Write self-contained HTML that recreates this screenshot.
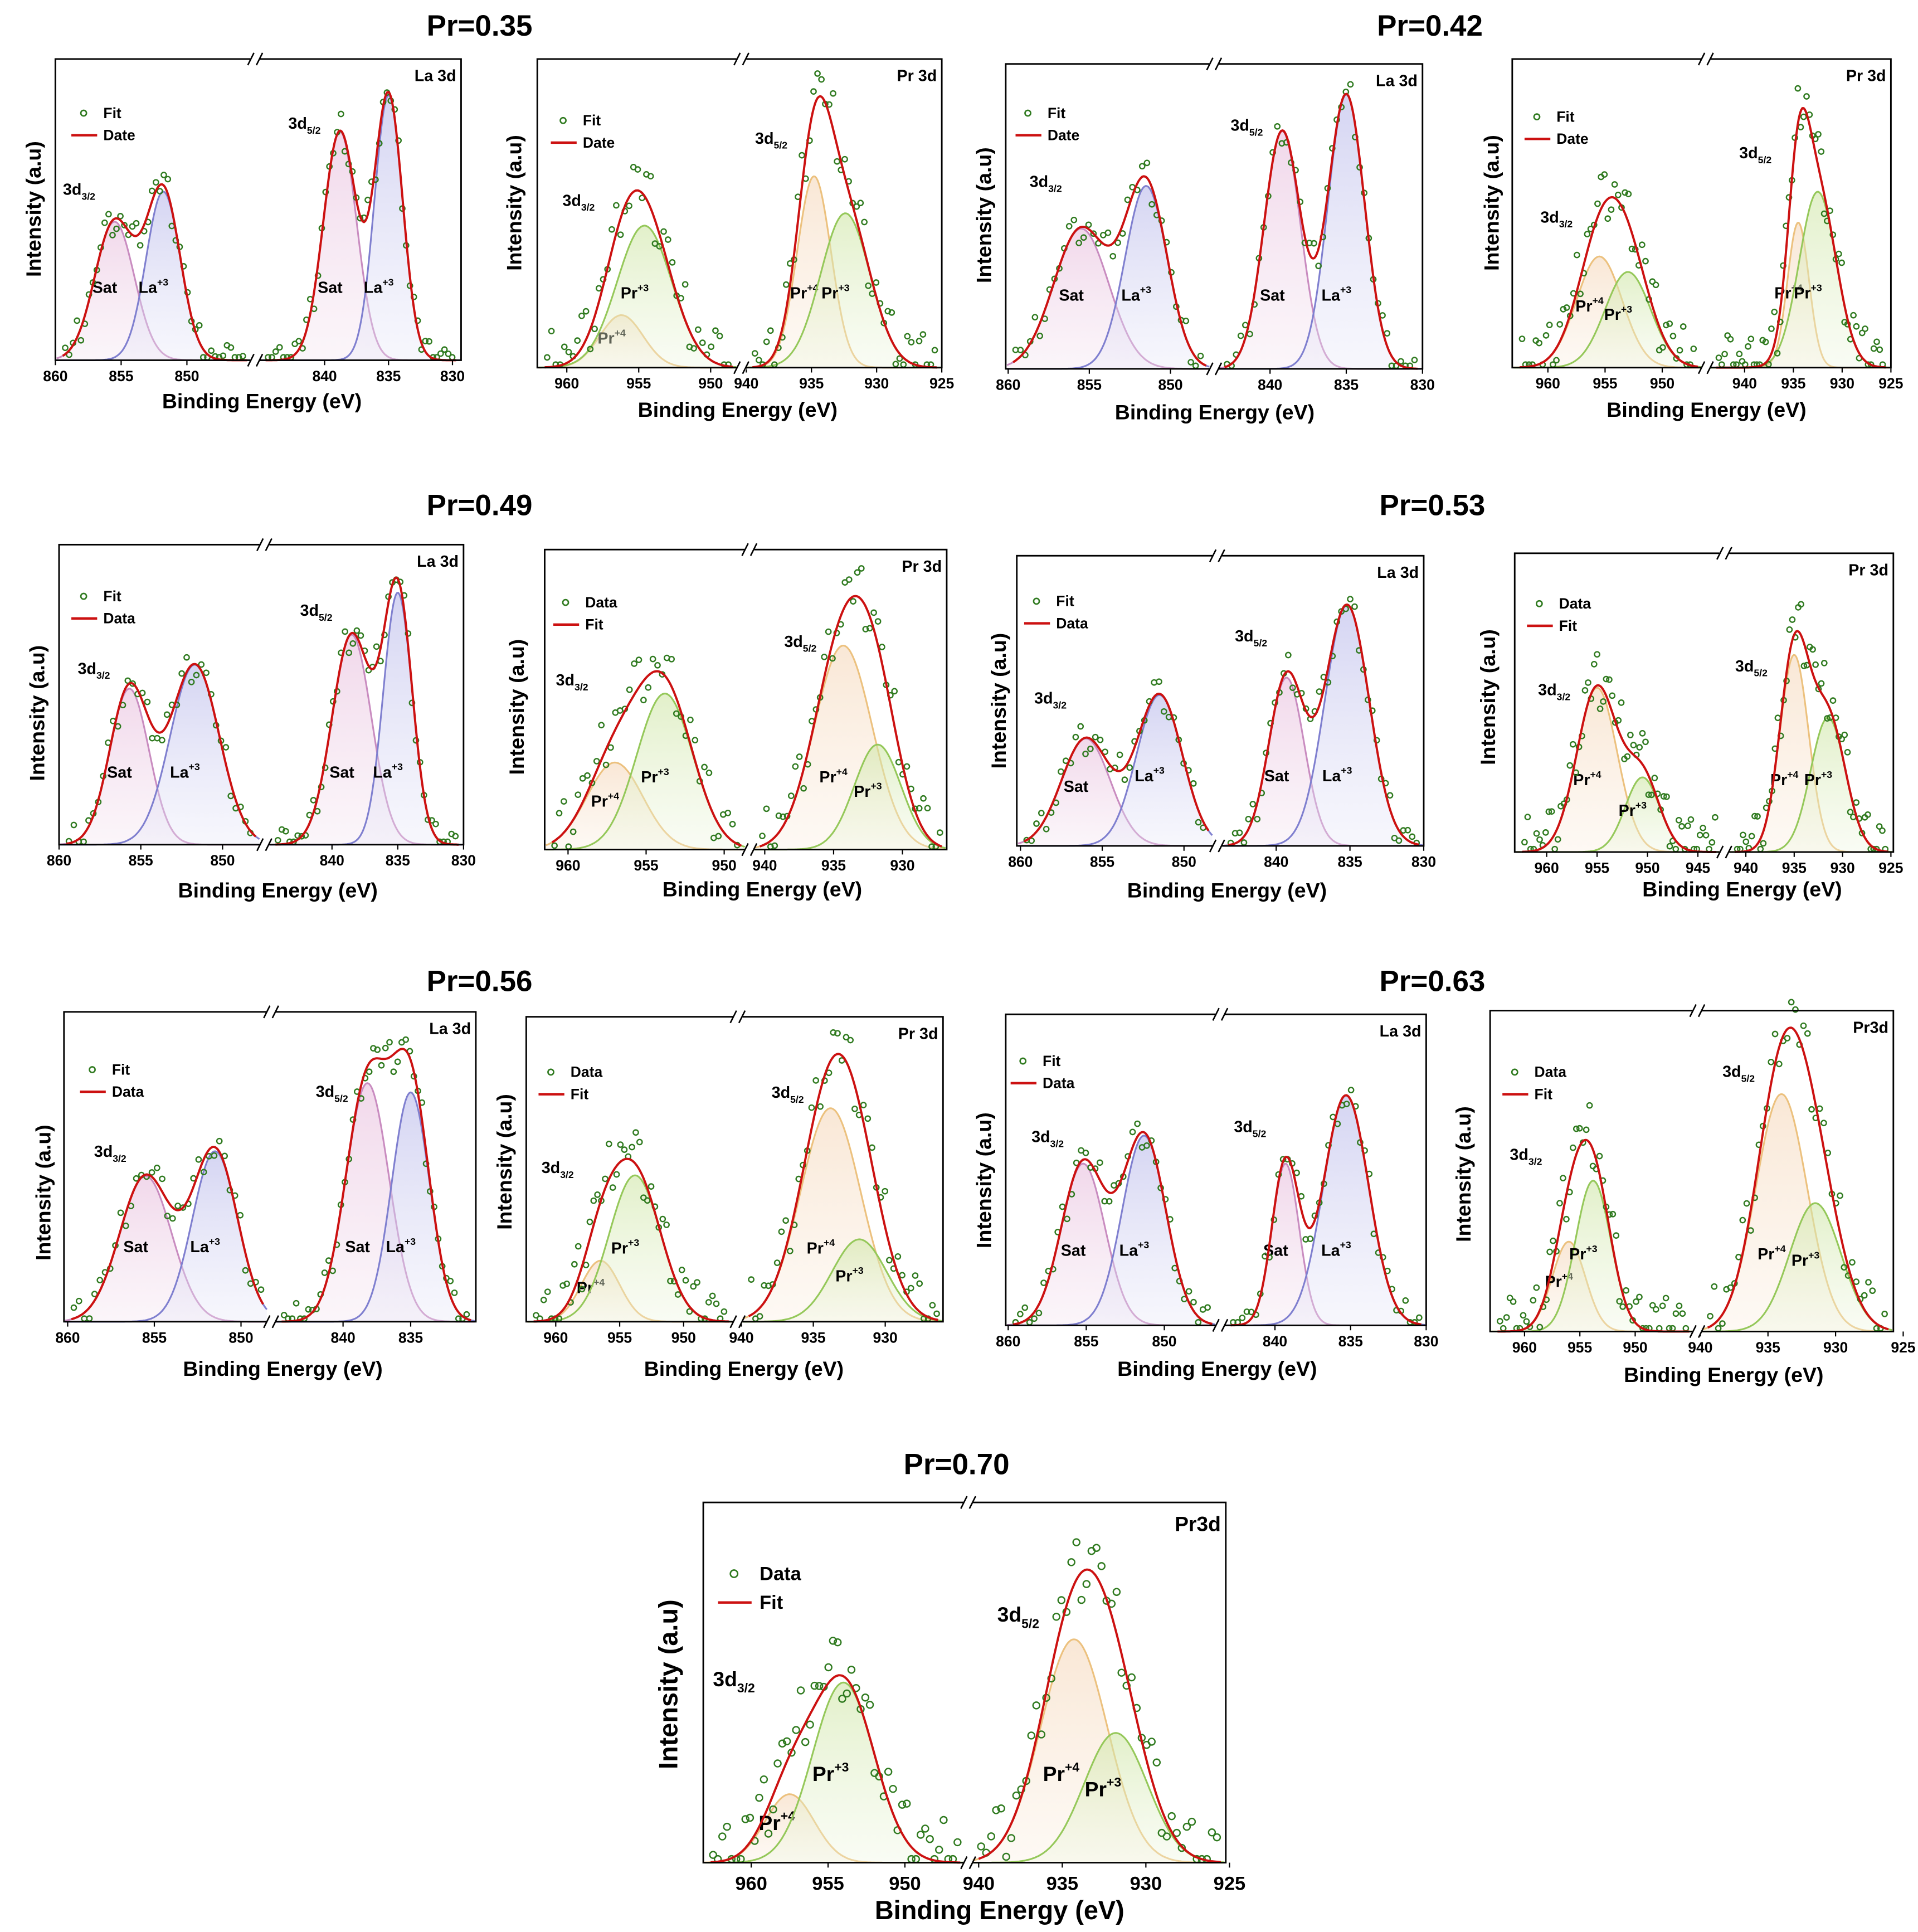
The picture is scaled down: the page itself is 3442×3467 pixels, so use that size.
<!DOCTYPE html>
<html><head><meta charset="utf-8"><style>
html,body{margin:0;padding:0;background:#fff}
svg{display:block;font-family:"Liberation Sans",Arial,sans-serif}
</style></head><body>
<svg id="fig" xmlns="http://www.w3.org/2000/svg" width="3442" height="3467" viewBox="0 0 1560 1571.4">
<defs>
<linearGradient id="g-sat" x1="0" y1="0" x2="0" y2="1"><stop offset="0" stop-color="#e6b8da" stop-opacity="0.55"/><stop offset="1" stop-color="#f4e4f0" stop-opacity="0.35"/></linearGradient>
<linearGradient id="g-la" x1="0" y1="0" x2="0" y2="1"><stop offset="0" stop-color="#b8b8ea" stop-opacity="0.6"/><stop offset="1" stop-color="#e8e8f8" stop-opacity="0.35"/></linearGradient>
<linearGradient id="g-p4" x1="0" y1="0" x2="0" y2="1"><stop offset="0" stop-color="#f4d4b4" stop-opacity="0.55"/><stop offset="1" stop-color="#fbeee0" stop-opacity="0.35"/></linearGradient>
<linearGradient id="g-p3" x1="0" y1="0" x2="0" y2="1"><stop offset="0" stop-color="#cfe6a6" stop-opacity="0.6"/><stop offset="1" stop-color="#eef6e0" stop-opacity="0.35"/></linearGradient>
</defs>
</svg>
<script>
// ---------- data ----------
const panelTitles = ["Pr=0.35","Pr=0.42","Pr=0.49","Pr=0.53","Pr=0.56","Pr=0.63","Pr=0.70"];
const peakCenters = [
 [855.5,851.8,838.8,835.0],
 [956.2,954.6,934.8,932.4],
 [855.5,851.5,839.2,835.0],
 [955.5,953.0,934.5,932.5],
 [855.7,851.7,838.5,835.0],
 [957.0,953.8,934.3,931.8],
 [856.0,851.5,839.3,835.2],
 [955.0,950.5,935.0,931.5],
 [855.5,851.5,838.2,835.0],
 [956.5,953.8,933.8,931.8],
 [855.2,851.3,839.3,835.3],
 [956.0,953.8,934.0,931.5],
 [957.5,954.0,934.3,931.8]
];
const peakHeights = [
 [0.46,0.56,0.76,0.88],
 [0.17,0.46,0.62,0.50],
 [0.46,0.60,0.78,0.90],
 [0.36,0.31,0.47,0.57],
 [0.52,0.60,0.70,0.84],
 [0.29,0.52,0.68,0.35],
 [0.37,0.52,0.58,0.83],
 [0.55,0.25,0.66,0.45],
 [0.47,0.55,0.77,0.74],
 [0.20,0.48,0.70,0.27],
 [0.52,0.61,0.52,0.74],
 [0.28,0.47,0.74,0.40],
 [0.19,0.50,0.62,0.36]
];
const peakWidths = [
 [1.5,1.3,1.3,1.1],
 [1.5,1.9,1.3,1.9],
 [1.7,1.3,1.2,1.2],
 [2.0,2.0,1.1,1.9],
 [1.2,1.5,1.5,1.1],
 [1.8,1.8,2.1,1.7],
 [1.5,1.4,1.2,1.5],
 [2.0,1.7,1.5,1.8],
 [1.5,1.3,1.6,1.4],
 [1.5,2.0,2.1,1.9],
 [1.4,1.4,0.9,1.5],
 [1.5,1.6,1.9,1.9],
 [1.6,2.0,2.0,1.9]
];
const peakKinds = {La:["sat","la","sat","la"], Pr:["p4","p3","p4","p3"]};
const laTicks = [[860,855,850],[840,835,830]];
const prTicks = [[960,955,950],[940,935,930,925]];
const noise = [0.03,-0.04,0.06,-0.02,0.05,-0.07,0.01,0.04,-0.05,0.08,-0.03,0.02,-0.06,0.05,0.00,-0.04,0.07,-0.02,0.03,-0.08,0.04,0.01,-0.05,0.06,-0.01,0.03,-0.06,0.02,0.05,-0.03,0.07];

// ---------- layout ----------
const L = [
 {t:"La",box:[45,48,375,293],s:[[860,45,850,152,45,205],[840,264,835,316,210,375]],leg:["Fit","Date"],lx:58,ly:92,lab:"La 3d",yl:[27,170],xl:[213,326],title:[390,20]},
 {t:"Pr",box:[437,48,766,299],s:[[960,461,950,578,437,600],[935,660,925,766,606,766]],leg:["Fit","Date"],lx:448,ly:98,lab:"Pr 3d",yl:[418,165],xl:[600,333]},
 {t:"La",box:[818,52,1157,300],s:[[860,820,850,952,818,985],[840,1033,830,1157,990,1157]],leg:["Fit","Date"],lx:826,ly:92,lab:"La 3d",yl:[800,175],xl:[988,335],title:[1163,20]},
 {t:"Pr",box:[1230,48,1538,299],s:[[960,1259,950,1352,1230,1385],[940,1419,925,1538,1390,1538]],leg:["Fit","Date"],lx:1240,ly:95,lab:"Pr 3d",yl:[1213,165],xl:[1388,333]},
 {t:"La",box:[48,443,377,687],s:[[860,48,850,181,48,212],[840,270,830,377,218,377]],leg:["Fit","Data"],lx:58,ly:485,lab:"La 3d",yl:[30,580],xl:[226,724],title:[390,410]},
 {t:"Pr",box:[443,447,770,691],s:[[960,462,950,589,443,607],[935,678,930,734,612,770]],leg:["Data","Fit"],lx:450,ly:490,lab:"Pr 3d",yl:[420,575],xl:[620,723],tk1:[940,935,930]},
 {t:"La",box:[827,452,1158,688],s:[[860,830,850,963,827,987],[840,1038,830,1158,993,1158]],leg:["Fit","Data"],lx:833,ly:489,lab:"La 3d",yl:[812,570],xl:[998,724],title:[1165,410]},
 {t:"Pr",box:[1232,450,1540,693],s:[[960,1258,945,1381,1232,1400],[940,1420,925,1538,1405,1540]],leg:["Data","Fit"],lx:1242,ly:491,lab:"Pr 3d",yl:[1210,567],xl:[1417,723],tk0:[960,955,950,945]},
 {t:"La",box:[52,823,387,1075],s:[[860,55,850,196,52,218],[840,279,835,334,223,387]],leg:["Fit","Data"],lx:65,ly:870,lab:"La 3d",yl:[35,970],xl:[230,1113],title:[390,797],tk1:[840,835]},
 {t:"Pr",box:[428,827,767,1075],s:[[960,452,950,556,428,597],[940,603,930,720,603,767]],leg:["Data","Fit"],lx:438,ly:872,lab:"Pr 3d",yl:[410,945],xl:[605,1113],tk1:[940,935,930]},
 {t:"La",box:[818,825,1160,1078],s:[[860,820,850,947,818,990],[840,1037,830,1160,995,1160]],leg:["Fit","Data"],lx:822,ly:863,lab:"La 3d",yl:[800,960],xl:[990,1113],title:[1165,797]},
 {t:"Pr",box:[1212,822,1540,1083],s:[[960,1240,950,1330,1212,1378],[940,1383,925,1548,1383,1540]],leg:["Data","Fit"],lx:1222,ly:872,lab:"Pr3d",yl:[1190,955],xl:[1402,1118]},
 {t:"Pr",box:[572,1222,997,1515],s:[[960,611,950,736,572,785],[935,864,930,932,790,997]],leg:["Data","Fit"],lx:584,ly:1280,lab:"Pr3d",yl:[545,1370],xl:[813,1555],title:[778,1190],big:true}
];
const COL = {sat:"#c98cc0",la:"#7f7fcf",p4:"#ecc17e",p3:"#95c85a"};
const NS="http://www.w3.org/2000/svg";
const svg=document.getElementById('fig');
function mk(tag,attrs,parent){const e=document.createElementNS(NS,tag);for(const k in attrs)e.setAttribute(k,attrs[k]);(parent||svg).appendChild(e);return e;}
function gauss(x,c,h,s){return h*Math.exp(-0.5*((x-c)/s)*((x-c)/s));}

let ni=0;
L.forEach((P,pi)=>{
 const g=mk('g',{});
 
 
 const big=!!P.big, fs=big?1.3:1;
 const [x0,y0,x1,y1]=P.box, H=y1-y0;
 const yv=v=>y1-v*H;
 const kinds=peakKinds[P.t];
 const axT=[P.tk0||(P.t==="La"?laTicks[0]:prTicks[0]), P.tk1||(P.t==="La"?laTicks[1]:prTicks[1])];
 if(P.title){const t=mk('text',{x:P.title[0],y:P.title[1]+9,'text-anchor':'middle','font-size':24,'font-weight':'bold'},g);t.textContent=panelTitles[[0,2,4,6,8,10,12].indexOf(pi)];}
 P.s.forEach((S,si)=>{
  const [ea,pa,eb,pb,ps,pe]=S;
  const k=(pb-pa)/(eb-ea);
  const xs=e=>pa+(e-ea)*k;
  const ex=p=>ea+(p-pa)/k;
  const idx=[2*si,2*si+1];
  idx.forEach(j=>{
   const c=peakCenters[pi][j],h=peakHeights[pi][j],w=peakWidths[pi][j],kd=kinds[j];
   let pts=[];
   for(let p=ps+1;p<=pe-1;p+=1){const v=gauss(ex(p),c,h,w);pts.push([p,yv(v)]);}
   const d='M'+pts.map(q=>q[0].toFixed(1)+','+q[1].toFixed(1)).join('L');
   const a=mk('path',{d:d+`L${pe-1},${y1}L${ps+1},${y1}Z`,fill:`url(#g-${kd})`,stroke:'none'},g);
   
   const l=mk('path',{d:d,fill:'none',stroke:COL[kd],'stroke-width':1.4},g);
   
   const lbl={sat:['Sat',''],la:['La','+3'],p4:['Pr','+4'],p3:['Pr','+3']}[kd];
   const ty=y1-Math.min(0.24,h*0.55)*H+4;
   const t=mk('text',{x:xs(c)-8*fs,y:ty,'font-size':13*fs,'font-weight':'bold','text-anchor':'middle'},g);
   t.textContent=lbl[0];
   if(lbl[1]){const sp=mk('tspan',{'font-size':8*fs,dy:-6*fs},t);sp.textContent=lbl[1];}
   
  });
  const fit=e=>idx.reduce((s,j)=>s+gauss(e,peakCenters[pi][j],peakHeights[pi][j],peakWidths[pi][j]),0);
  let fp=[];for(let p=ps+6;p<=pe-4;p+=1)fp.push(p.toFixed(1)+','+yv(fit(ex(p))).toFixed(1));
  const step=Math.abs(k)*0.3;
  for(let p=ps+8;p<=pe-5;p+=step){
   const v=Math.max(0.01,fit(ex(p))+noise[ni%noise.length]*(P.t==="Pr"?1.2:0.7)+(P.t==="Pr"?0.02:0));ni+=3;
   const c=mk('circle',{cx:p.toFixed(1),cy:yv(v).toFixed(1),r:2.1*fs,fill:'none',stroke:'#2f7a1f','stroke-width':1.1},g);
   
  }
  const fl=mk('path',{d:'M'+fp.join('L'),fill:'none',stroke:'#cc1111','stroke-width':1.8},g);
  
  axT[si].forEach(tv=>{
   const px=xs(tv);
   mk('line',{x1:px,y1:y1,x2:px,y2:y1+4,stroke:'#000','stroke-width':1},g);
   const t=mk('text',{x:px,y:y1+17*fs,'font-size':12*fs,'font-weight':'bold','text-anchor':'middle'},g);
   t.textContent=tv;
  });
  const mx=idx.reduce((m,j)=>Math.max(m,fit(peakCenters[pi][j])),0);
  const lc=peakCenters[pi][idx[0]];
  const t=mk('text',{x:xs(lc)-(P.t==="La"?42:48)*fs,y:yv(mx)+ (si? 30:8),'font-size':13*fs,'font-weight':'bold'},g);
  t.textContent='3d';const sb=mk('tspan',{'font-size':8*fs,dy:4*fs},t);sb.textContent=si?'5/2':'3/2';
  
 });
 const bx=mk('rect',{x:x0,y:y0,width:x1-x0,height:H,fill:'none',stroke:'#000','stroke-width':1.3},g);
 
 const br=(P.s[0][5]+P.s[1][4])/2;
 [y0,y1].forEach(yy=>{
  mk('rect',{x:br-4,y:yy-2,width:8,height:4,fill:'#fff'},g);
  mk('line',{x1:br-6,y1:yy+5,x2:br-1,y2:yy-5,stroke:'#000','stroke-width':1.2},g);
  mk('line',{x1:br+1,y1:yy+5,x2:br+6,y2:yy-5,stroke:'#000','stroke-width':1.2},g);
 });
 const lg=mk('g',{},g);
 P.leg.forEach((name,i)=>{
  const yy=P.ly+i*18*fs;
  if(i===0){mk('circle',{cx:P.lx+10*fs,cy:yy,r:2.3*fs,fill:'none',stroke:'#2f7a1f','stroke-width':1.2},lg);}
  else mk('line',{x1:P.lx,y1:yy,x2:P.lx+21*fs,y2:yy,stroke:'#cc1111','stroke-width':2},lg);
  const t=mk('text',{x:P.lx+26*fs,y:yy+4*fs,'font-size':12*fs,'font-weight':'bold'},lg);t.textContent=name;
 });
 const lb=mk('text',{x:x1-4,y:y0+18*fs,'font-size':13*fs,'font-weight':'bold','text-anchor':'end'},g);lb.textContent=P.lab;
 
 const xl=mk('text',{x:P.xl[0],y:P.xl[1]+6,'font-size':17*(big?1.25:1),'font-weight':'bold','text-anchor':'middle'},g);xl.textContent='Binding Energy (eV)';
 
 const yl=mk('text',{x:P.yl[0],y:P.yl[1],'font-size':17*(big?1.25:1),'font-weight':'bold','text-anchor':'middle',transform:`rotate(-90 ${P.yl[0]} ${P.yl[1]})`,dy:6},g);yl.textContent='Intensity (a.u)';
 
});
</script>
</body></html>
